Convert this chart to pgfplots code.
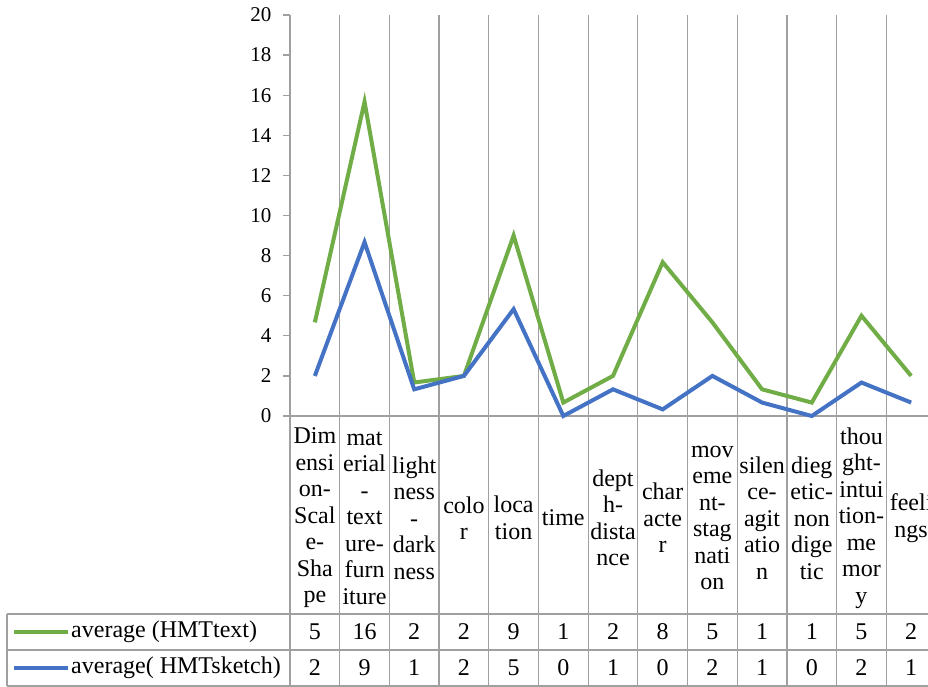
\documentclass[border=0pt]{standalone}
\usepackage{pgfplots}
\pgfplotsset{compat=1.18}
\usepackage{fontspec}
\setmainfont{Liberation Serif}
\definecolor{ggreen}{HTML}{70AD47}
\definecolor{gblue}{HTML}{4472C4}
\definecolor{gridc}{HTML}{A0A0A0}
\newcommand{\catfont}{\fontsize{24}{26.5}\selectfont}
\begin{document}
\begin{tikzpicture}[x=1pt,y=1pt]
\begin{axis}[
  at={(0,0)}, anchor=south west,
  scale only axis, width=646pt, height=401pt,
  xmin=-0.5, xmax=12.5, ymin=0, ymax=20,
  axis lines*=left,
  axis line style={draw=gridc, line width=1.2pt},
  ytick={0,2,...,20},
  tick align=outside,
  major tick length=7pt,
  tick style={draw=gridc, line width=1.2pt},
  y tick label style={font=\fontsize{21}{23}\selectfont, /pgf/number format/assume math mode=true, xshift=-8pt},
  xtick={0,...,12},
  xticklabels={
    {Dim\\ensi\\on-\\Scal\\e-\\Sha\\pe},
    {mat\\erial\\-\\text\\ure-\\furn\\iture},
    {light\\ness\\-\\dark\\ness},
    {colo\\r},
    {loca\\tion},
    {time},
    {dept\\h-\\dista\\nce},
    {char\\acte\\r},
    {mov\\eme\\nt-\\stag\\nati\\on},
    {silen\\ce-\\agit\\atio\\n},
    {dieg\\etic-\\non\\dige\\tic},
    {thou\\ght-\\intui\\tion-\\me\\mor\\y},
    {feeli\\ngs}},
  x tick style={draw=none},
  x tick label style={font=\catfont, align=center, anchor=center, yshift=-95pt, inner sep=0pt},
  minor xtick={0.5,1.5,...,12.5},
  minor x tick style={draw=none},
  xminorgrids=true,
  minor x grid style={draw=gridc, line width=1.2pt},
  clip=false,
]
\addplot[ggreen, line width=4pt, line join=miter] coordinates {
 (0,4.67) (1,15.67) (2,1.67) (3,2) (4,9) (5,0.67) (6,2) (7,7.67) (8,4.67) (9,1.33) (10,0.67) (11,5) (12,2)};
\addplot[gblue, line width=4pt, line join=miter] coordinates {
 (0,2) (1,8.67) (2,1.33) (3,2) (4,5.33) (5,0) (6,1.33) (7,0.33) (8,2) (9,0.67) (10,0) (11,1.67) (12,0.67)};
\end{axis}
% data table grid
\foreach \k in {0,...,13} {\draw[gridc, line width=1.2pt] ({\k*646/13},0) -- ({\k*646/13},-270);}
\draw[gridc, line width=1.2pt] (-283,-198) -- (660,-198);
\draw[gridc, line width=1.2pt] (-283,-234) -- (660,-234);
\draw[gridc, line width=1.2pt] (-283,-270) -- (660,-270);
\draw[gridc, line width=1.2pt] (-283,-198) -- (-283,-270);
% legend keys in table
\draw[ggreen, line width=4pt] (-276,-216) -- (-222,-216);
\draw[gblue, line width=4pt] (-276,-252) -- (-222,-252);
\node[anchor=west, inner sep=0pt, font=\catfont] at (-219,-216) {average (HMTtext)};
\node[anchor=west, inner sep=0pt, font=\catfont] at (-219,-252) {average( HMTsketch)};
\foreach \v [count=\i from 0] in {5,16,2,2,9,1,2,8,5,1,1,5,2}
  {\node[font=\catfont, inner sep=0pt] at ({(\i+0.5)*646/13},-216) {\v};}
\foreach \v [count=\i from 0] in {2,9,1,2,5,0,1,0,2,1,0,2,1}
  {\node[font=\catfont, inner sep=0pt] at ({(\i+0.5)*646/13},-252) {\v};}
\pgfresetboundingbox
\path[use as bounding box] (-290,-271) rectangle (638,416);
\end{tikzpicture}
\end{document}
